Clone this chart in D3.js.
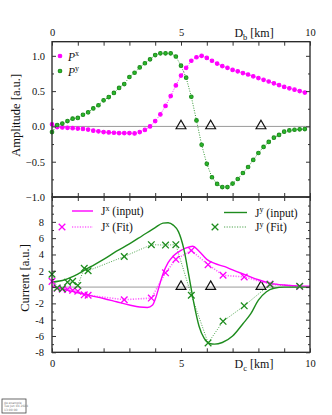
<!DOCTYPE html>
<html>
<head>
<meta charset="utf-8">
<script src="https://cdn.jsdelivr.net/npm/d3@7"></script>
<style>
  body { margin: 0; background: #fff; }
  svg { display: block; font-family: "Liberation Serif", "DejaVu Serif", serif; }
</style>
</head>
<body>
<svg id="chart" width="332" height="415"></svg>
<script>
// ---- data ----

// top panel: amplitudes vs D_b
const ampX = [0, 0.2, 0.4, 0.6, 0.8, 1.0, 1.2, 1.4, 1.6, 1.8, 2.0, 2.2, 2.4, 2.6, 2.8, 3.0, 3.2, 3.4, 3.6, 3.8,
              4.0, 4.2, 4.4, 4.6, 4.8, 5.0, 5.2, 5.4, 5.6, 5.8, 6.0, 6.2, 6.4, 6.6, 6.8, 7.0, 7.2, 7.4, 7.6, 7.8,
              8.0, 8.2, 8.4, 8.6, 8.8, 9.0, 9.2, 9.4, 9.6, 9.8];
const pxVals = [0.03, -0.01, -0.015, -0.02, -0.025, -0.03, -0.035, -0.045, -0.06, -0.07, -0.08, -0.085, -0.09, -0.095, -0.095,
                -0.095, -0.1, -0.08, -0.05, 0.0, 0.075, 0.17, 0.29, 0.43, 0.58, 0.72, 0.83, 0.93, 0.98, 1.0,
                0.97, 0.93, 0.89, 0.855, 0.83, 0.80, 0.78, 0.755, 0.735, 0.71, 0.685, 0.66, 0.636, 0.61, 0.585,
                0.56, 0.54, 0.52, 0.50, 0.48];
const pyVals = [-0.08, 0.02, 0.04, 0.075, 0.11, 0.12, 0.165, 0.2, 0.255, 0.3, 0.37, 0.415, 0.475, 0.545, 0.6,
                0.7, 0.76, 0.835, 0.895, 0.95, 1.01, 1.035, 1.035, 1.035, 0.99, 0.86, 0.69, 0.42, 0.085, -0.26,
                -0.53, -0.72, -0.815, -0.86, -0.86, -0.81, -0.745, -0.66, -0.575, -0.475, -0.377, -0.29, -0.22, -0.16, -0.12,
                -0.075, -0.057, -0.047, -0.042, -0.038];

// station positions (triangles), same in both panels
const stations = [5.0, 6.15, 8.1];

// bottom panel: input currents vs D_c
const jxInX = [0, 0.5, 1.0, 1.5, 2.0, 2.5, 3.0, 3.4, 3.7, 3.9, 4.0, 4.1, 4.2, 4.3, 4.5, 4.7, 5.0, 5.2, 5.45, 5.7,
               6.0, 6.3, 6.7, 7.0, 7.5, 8.0, 8.5, 9.0, 9.5, 10];
const jxIn  = [0.1, -0.3, -0.7, -1.05, -1.4, -1.8, -2.2, -2.45, -2.5, -2.2, -1.5, -0.5, 0.6, 1.6, 3.0, 3.8, 4.5, 4.8, 5.0, 4.4,
               3.4, 2.9, 2.5, 2.1, 1.5, 0.9, 0.45, 0.25, 0.15, 0.1];
const jyInX = [0, 0.5, 1.0, 1.5, 2.0, 2.5, 3.0, 3.5, 4.0, 4.3, 4.5, 4.7, 4.9, 5.1, 5.3, 5.5, 5.7, 5.9, 6.1, 6.3,
               6.6, 7.0, 7.4, 7.7, 8.0, 8.3, 8.6, 9.0, 10];
const jyIn  = [0.6, 0.9, 1.6, 2.5, 3.4, 4.4, 5.3, 6.3, 7.3, 7.85, 7.9, 7.6, 6.8, 4.8, 1.5, -2.0, -4.8, -6.3, -6.9, -7.0,
               -6.8, -6.0, -4.5, -3.3, -1.6, -0.6, -0.15, 0.0, 0.0];

// bottom panel: fitted currents
const fitX  = [0, 0.2, 0.4, 0.6, 0.8, 1.0, 1.25, 1.4, 2.8, 3.85, 4.4, 4.8, 5.4, 6.05, 6.63, 7.45, 8.45, 9.6];
const jxFit = [0.7, -0.15, -0.25, -0.3, -0.4, -0.5, -0.95, -1.0, -1.55, -1.35, 1.75, 3.4, 4.5, 2.75, 1.45, 1.24, 0.38, 0.08];
const jyFit = [1.57, -0.1, -0.2, 0.6, 0.7, 0.2, 2.3, 2.0, 3.75, 5.2, 5.15, 5.2, -1.0, -6.85, -4.2, -2.3, 0.32, 0.1];

const xTicks = [0, 1, 2, 3, 4, 5, 6, 7, 8, 9, 10];
const xLabels = [0, 5, 10];
const ampMajor = [-1.0, -0.5, 0.0, 0.5, 1.0];
const ampMinor = [-0.75, -0.25, 0.25, 0.75];
const curMajor = [-8, -6, -4, -2, 0, 2, 4, 6, 8];
const curMinor = [-7, -5, -3, -1, 1, 3, 5, 7, 9, 10];

const MAG = "#ff00ff", GRN = "#1e8c1e";

// ---- layout ----
const left = 52, right = 310;
const topY0 = 41.7, midY = 197, botY1 = 352.3;

const svg = d3.select("#chart");

const x = d3.scaleLinear().domain([0, 10]).range([left, right]);
const yA = d3.scaleLinear().domain([-1, 1.2]).range([midY, topY0]);
const yC = d3.scaleLinear().domain([-8, 11.05]).range([botY1, midY]);

function tickAxis(axis, tx, ty, size, vals, fmt, pad) {
    const g = svg.append("g")
        .attr("transform", `translate(${tx},${ty})`)
        .call(axis.tickValues(vals).tickSize(-size).tickPadding(pad || 3)
            .tickFormat(fmt || (() => "")));
    g.select(".domain").remove();
    g.selectAll("line").attr("stroke", "#333").attr("stroke-width", 1);
    g.selectAll("text").attr("fill", "#111").attr("font-size", "10.5px")
        .attr("font-family", '"Liberation Serif", serif');
    return g;
}

// zero lines
[[yA, 0], [yC, 0]].forEach(([s, v]) => {
    svg.append("line")
        .attr("x1", left).attr("x2", right)
        .attr("y1", s(v)).attr("y2", s(v))
        .attr("stroke", "#9a9a9a").attr("stroke-width", 1);
});

// ---- top panel ----
const lineA = d3.line().x(d => x(d[0])).y(d => yA(d[1]));
const pxPts = ampX.map((v, i) => [v, pxVals[i]]);
const pyPts = ampX.map((v, i) => [v, pyVals[i]]);

[[pxPts, MAG], [pyPts, GRN]].forEach(([pts, c]) => {
    svg.append("path")
        .attr("d", lineA(pts))
        .attr("fill", "none")
        .attr("stroke", c)
        .attr("stroke-width", 0.9)
        .attr("stroke-dasharray", "1,1.5");
    svg.append("g").selectAll("circle")
        .data(pts)
        .join("circle")
        .attr("cx", d => x(d[0]))
        .attr("cy", d => yA(d[1]))
        .attr("r", 1.8)
        .attr("fill", d3.color(c).brighter(0.8))
        .attr("stroke", c)
        .attr("stroke-width", 1.1);
});

// triangles (top + bottom)
const tri = d3.symbol().type(d3.symbolTriangle).size(42);
[yA, yC].forEach(s => {
    svg.append("g").selectAll("path")
        .data(stations)
        .join("path")
        .attr("d", tri)
        .attr("transform", d => `translate(${x(d)},${s(0) - 0.5})`)
        .attr("fill", "none")
        .attr("stroke", "#111")
        .attr("stroke-width", 1.2);
});

// ---- bottom panel ----
const lineC = d3.line().x(d => x(d[0])).y(d => yC(d[1])).curve(d3.curveMonotoneX);
const lineFit = d3.line().x(d => x(d[0])).y(d => yC(d[1]));

const jxPts = jxInX.map((v, i) => [v, jxIn[i]]);
const jyPts = jyInX.map((v, i) => [v, jyIn[i]]);
const jxFitPts = fitX.map((v, i) => [v, jxFit[i]]);
const jyFitPts = fitX.map((v, i) => [v, jyFit[i]]);

const cross = "M-3.3,-3.3L3.3,3.3M-3.3,3.3L3.3,-3.3";

// fits: dotted lines + crosses
svg.append("path").attr("d", lineFit(jxFitPts))
    .attr("fill", "none").attr("stroke", "#ff66ff").attr("stroke-width", 1.6)
    .attr("stroke-dasharray", "1.2,1.4");
svg.append("path").attr("d", lineFit(jyFitPts))
    .attr("fill", "none").attr("stroke", "#3a9a3a").attr("stroke-width", 0.9)
    .attr("stroke-dasharray", "1,1.5");

// inputs: solid curves
svg.append("path").attr("d", lineC(jxPts))
    .attr("fill", "none").attr("stroke", MAG).attr("stroke-width", 1.4);
svg.append("path").attr("d", lineC(jyPts))
    .attr("fill", "none").attr("stroke", GRN).attr("stroke-width", 1.4);

[[jxFitPts, MAG], [jyFitPts, GRN]].forEach(([pts, c]) => {
    svg.append("g").selectAll("path")
        .data(pts)
        .join("path")
        .attr("d", cross)
        .attr("transform", d => `translate(${x(d[0])},${yC(d[1])})`)
        .attr("fill", "none")
        .attr("stroke", c)
        .attr("stroke-width", 1.3);
});

// ---- frames and ticks ----
[[topY0, midY], [midY, botY1]].forEach(([a, b]) => {
    svg.append("rect")
        .attr("x", left).attr("y", a)
        .attr("width", right - left).attr("height", b - a)
        .attr("fill", "none").attr("stroke", "#222").attr("stroke-width", 1.3);
});

// x ticks
tickAxis(d3.axisTop(x), 0, topY0, 4, xTicks, d => xLabels.includes(d) ? d : "", 6);
tickAxis(d3.axisBottom(x), 0, midY, 4, xTicks);
tickAxis(d3.axisTop(x), 0, midY, 4, xTicks);
tickAxis(d3.axisBottom(x), 0, botY1, 4, xTicks, d => xLabels.includes(d) ? d : "", 7);

// y ticks, top panel
tickAxis(d3.axisLeft(yA), left, 0, 4, ampMajor, d3.format(".1f"), 7);
tickAxis(d3.axisLeft(yA), left, 0, 2, ampMinor);
tickAxis(d3.axisRight(yA), right, 0, 4, ampMajor);
tickAxis(d3.axisRight(yA), right, 0, 2, ampMinor);

// y ticks, bottom panel
tickAxis(d3.axisLeft(yC), left, 0, 4, curMajor, d => d, 8);
tickAxis(d3.axisLeft(yC), left, 0, 2, curMinor);
tickAxis(d3.axisRight(yC), right, 0, 4, curMajor);
tickAxis(d3.axisRight(yC), right, 0, 2, curMinor);

// ---- axis titles ----
function subLabel(tx, ty, main, sub, rest) {
    const t = svg.append("text")
        .attr("x", tx).attr("y", ty)
        .attr("text-anchor", "middle")
        .attr("font-size", "12px")
        .attr("fill", "#111");
    t.append("tspan").text(main);
    t.append("tspan").attr("font-size", "8.5px").attr("dy", 3).text(sub);
    t.append("tspan").attr("dy", -3).text(rest);
}
subLabel(254, 36.5, "D", "b", " [km]");
subLabel(254, 367.5, "D", "c", " [km]");

svg.append("text")
    .attr("transform", `translate(19.5,${(topY0 + midY) / 2 - 4}) rotate(-90)`)
    .attr("text-anchor", "middle")
    .attr("font-size", "12.5px")
    .attr("fill", "#111")
    .text("Amplitude [a.u.]");

svg.append("text")
    .attr("transform", `translate(29,278) rotate(-90)`)
    .attr("text-anchor", "middle")
    .attr("font-size", "12.5px")
    .attr("fill", "#111")
    .text("Current [a.u.]");

// ---- legends ----
function supText(tx, ty, main, sup, rest, italic) {
    const t = svg.append("text")
        .attr("x", tx).attr("y", ty)
        .attr("font-size", "11.5px")
        .attr("fill", "#111");
    t.append("tspan").attr("font-style", italic ? "italic" : null).text(main);
    t.append("tspan").attr("font-size", "8px").attr("dy", -4.5).text(sup);
    if (rest) t.append("tspan").attr("dy", 4.5).text(rest);
}

// top legend
[[56, MAG, "x"], [71, GRN, "y"]].forEach(([ly, c, s]) => {
    svg.append("circle").attr("cx", 60).attr("cy", ly).attr("r", 1.8)
        .attr("fill", d3.color(c).brighter(0.8)).attr("stroke", c).attr("stroke-width", 1.1);
    supText(68, ly + 4.5, "P", s, null, true);
});

// bottom legend
function legendEntry(lx0, lx1, ly, c, solid, markX, label, sup, rest) {
    const l = svg.append("line")
        .attr("x1", lx0).attr("x2", lx1).attr("y1", ly).attr("y2", ly)
        .attr("stroke", c);
    if (solid) l.attr("stroke-width", 1.4);
    else l.attr("stroke-width", c === MAG ? 1.6 : 0.9).attr("stroke-dasharray", "1.2,1.4")
        .attr("stroke", c === MAG ? "#ff66ff" : "#3a9a3a");
    if (markX != null) {
        svg.append("path").attr("d", cross)
            .attr("transform", `translate(${markX},${ly})`)
            .attr("fill", "none").attr("stroke", c).attr("stroke-width", 1.3);
    }
    supText(lx1 + 8, ly + 4, label, sup, rest, false);
}
legendEntry(72, 93, 211, MAG, true, null, "J", "x", " (input)");
legendEntry(72, 93, 227, MAG, false, 62, "J", "x", " (Fit)");
legendEntry(224, 247, 212.5, GRN, true, null, "J", "y", " (input)");
legendEntry(224, 247, 227, GRN, false, 215, "J", "y", " (Fit)");

// ---- little stamp box, bottom left ----
svg.append("rect").attr("x", 2).attr("y", 399).attr("width", 24).attr("height", 14)
    .attr("fill", "#fff").attr("stroke", "#444").attr("stroke-width", 0.8);
["de.example", "Tue Jun 04 2024", "13:00:00"].forEach((s, i) => {
    svg.append("text").attr("x", 4).attr("y", 403.5 + i * 3.5)
        .attr("font-size", "3px").attr("fill", "#777")
        .attr("font-family", "DejaVu Sans, sans-serif").text(s);
});
</script>
</body>
</html>
